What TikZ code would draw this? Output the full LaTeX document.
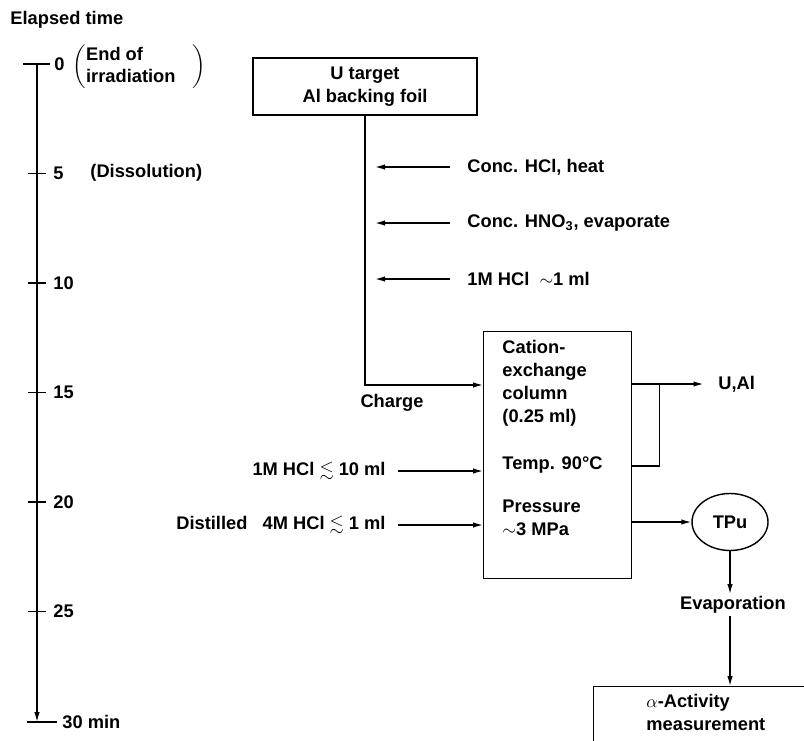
\documentclass[tikz,border=0pt]{standalone}
\usepackage{amssymb}
\usepackage{fontspec}
\setmainfont{Liberation Sans}
\usetikzlibrary{positioning, calc, shapes.geometric, arrows.meta}
\tikzset{
	steptext/.style={font=\fontsize{10.4}{13}\selectfont\bfseries, inner sep=1pt}
}
\tikzset{
	flowarrow/.style={-{Latex[length=2mm,width=1.1mm]}, line width=0.8pt}
}
\tikzset{
	flowbox/.style={draw, line width=0.8pt, rectangle, inner sep=0pt}
}

\begin{document}
\begin{tikzpicture}[x=0.02cm, y=-0.02cm, line width=0.8pt]
      \useasboundingbox (0,0) rectangle (804,740);
      \clip (0,0) rectangle (804,740);
      % time scale on the left
      \node[steptext, anchor=west] (elapsed) at (8,20) {Elapsed time};
      \coordinate (tstart) at (37,64);
      \coordinate (tend) at (37,722);
      \draw (23,64) -- (50,64);
      \draw[flowarrow] (tstart) -- (tend);
      \draw (27,722) -- (57,722);
      \node[steptext, anchor=west] (t0) at (52,64) {0};
      \foreach \m in {5,10,...,25} {
        \draw (28,{64+\m*21.9}) -- (46,{64+\m*21.9});
        \node[steptext, anchor=west] (t\m) at (51,{64+\m*21.9}) {\m};
      }
      \node[steptext, anchor=west] (t30) at (60,722) {30 min};
      \node[steptext, anchor=west, inner sep=0pt] (endirr) at (72,67)
        {$\left(\mbox{\begin{tabular}{@{}l@{}}End of\\irradiation\end{tabular}}\hspace{0.35cm}\right)$};
      \node[steptext, anchor=west] (dissol) at (88,173) {(Dissolution)};
      % dissolution of the target
      \node[flowbox, minimum width=4.48cm, minimum height=1.14cm, align=center, steptext]
        (target) at (365,86.5) {U target\\Al backing foil};
      \node[steptext, anchor=west] (conchcl) at (465,167) {Conc. HCl, heat};
      \node[steptext, anchor=west] (conchno) at (465,223) {Conc. HNO\textsubscript{3}, evaporate};
      \node[steptext, anchor=west] (onemhcl) at (465,279) {1M HCl \ $\sim$1 ml};
      \foreach \n in {conchcl,conchno,onemhcl}
        \draw[flowarrow, shorten >=0.2cm] ([xshift=-0.3cm]\n.west) -- (\n.west -| target.south);
      % ion exchange column
      \node[flowbox, minimum width=2.96cm, minimum height=4.94cm, anchor=north west]
        (column) at (483,331) {};
      \node[steptext, anchor=north west, align=left] (coltext) at (500,338)
        {Cation-\\exchange\\column\\(0.25 ml)};
      \node[steptext, anchor=west] (temp) at (500,465) {Temp. 90°C};
      \node[steptext, anchor=west, align=left] (press) at (500,518) {Pressure\\$\sim$3 MPa};
      \draw[flowarrow] (target.south) |- ($(column.north west)+(0,54)$);
      \node[steptext] (charge) at (392,403) {Charge};
      \node[steptext, anchor=east] (washhcl) at (388,471) {1M HCl $\lesssim$ 10 ml};
      \node[steptext, anchor=east] (elhcl) at (388,525) {Distilled \ \ 4M HCl $\lesssim$ 1 ml};
      \draw[flowarrow] ([xshift=0.2cm]washhcl.east) -- (washhcl.east -| column.west);
      \draw[flowarrow] ([xshift=0.2cm]elhcl.east) -- (elhcl.east -| column.west);
      % effluents
      \node[steptext, anchor=west] (ual) at (716,384) {U,Al};
      \draw[flowarrow] ($(column.north east)+(0,53)$) -- ([xshift=-0.25cm]ual.west);
      \draw ($(column.north east)+(0,135)$) -| ($(column.north east)+(27,53)$);
      \node[draw, ellipse, minimum width=1.52cm, minimum height=1.14cm, steptext]
        (tpu) at (730,522) {TPu};
      \draw[flowarrow] (column.east |- tpu.west) -- (tpu.west);
      \node[steptext] (evap) at (733,605) {Evaporation};
      \draw[flowarrow] (tpu.south) -- (tpu.south |- evap.north);
      \node[flowbox, minimum width=4.6cm, minimum height=1.4cm, anchor=north west]
        (meas) at (593,686) {};
      \node[steptext, anchor=north west, align=left] (meastext) at (644,692)
        {$\alpha$-Activity\\measurement};
      \draw[flowarrow] (tpu.south |- evap.south) -- (tpu.south |- meas.north);
    \end{tikzpicture}
\end{document}
